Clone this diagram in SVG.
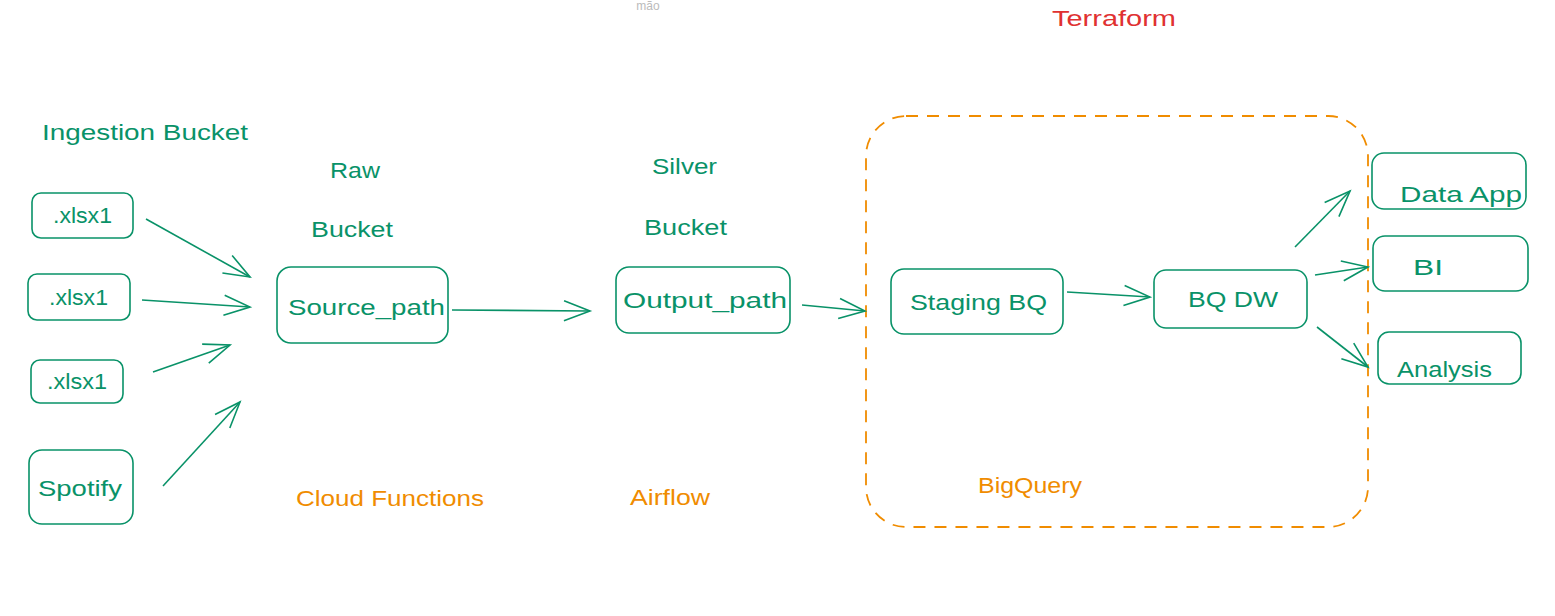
<svg xmlns="http://www.w3.org/2000/svg" width="1555" height="616" viewBox="0 0 1555 616">
<style>
.box{fill:none;stroke:#099268;stroke-width:1.6}
.t{font-family:"Liberation Sans","DejaVu Sans",sans-serif;font-size:22px;dominant-baseline:central}
.g{fill:#099268}
.o{fill:#f08c00}
.r{fill:#e03131}
.c{fill:none;stroke:#099268;stroke-width:1.6;marker-end:url(#ah)}
</style>
<defs>
<marker id="ah" markerUnits="userSpaceOnUse" markerWidth="40" markerHeight="40" refX="30" refY="20" orient="auto">
<path d="M4,10 L30,20 L4,30" fill="none" stroke="#099268" stroke-width="1.6"/>
</marker>
</defs>
<rect width="1555" height="616" fill="#ffffff"/>
<text x="648" y="6" text-anchor="middle" font-family="Liberation Sans, sans-serif" font-size="12" fill="#bbbbbb" dominant-baseline="central">mão</text>
<text class="t r" x="1052" y="18" textLength="124" lengthAdjust="spacingAndGlyphs">Terraform</text>
<text class="t g" x="42" y="132" textLength="206" lengthAdjust="spacingAndGlyphs">Ingestion Bucket</text>
<text class="t g" x="330" y="170" textLength="50" lengthAdjust="spacingAndGlyphs">Raw</text>
<text class="t g" x="311" y="229" textLength="82" lengthAdjust="spacingAndGlyphs">Bucket</text>
<text class="t g" x="652" y="166" textLength="65" lengthAdjust="spacingAndGlyphs">Silver</text>
<text class="t g" x="644" y="227" textLength="83" lengthAdjust="spacingAndGlyphs">Bucket</text>
<text class="t o" x="296" y="498" textLength="188" lengthAdjust="spacingAndGlyphs">Cloud Functions</text>
<text class="t o" x="630" y="497" textLength="80" lengthAdjust="spacingAndGlyphs">Airflow</text>
<g id="bigquery">
<rect x="866" y="116" width="502" height="411" rx="40" fill="none" stroke="#f08c00" stroke-width="1.8" stroke-dasharray="12 9"/>
<text class="t o" x="978" y="485" textLength="104" lengthAdjust="spacingAndGlyphs">BigQuery</text>
</g>
<g id="xlsx1a"><rect class="box" x="32" y="193" width="101" height="45" rx="9"/><text class="t g" x="53" y="215" textLength="59" lengthAdjust="spacingAndGlyphs">.xlsx1</text></g>
<g id="xlsx1b"><rect class="box" x="28" y="274" width="102" height="46" rx="9"/><text class="t g" x="49" y="297" textLength="59" lengthAdjust="spacingAndGlyphs">.xlsx1</text></g>
<g id="xlsx1c"><rect class="box" x="31" y="360" width="92" height="43" rx="9"/><text class="t g" x="47" y="381" textLength="60" lengthAdjust="spacingAndGlyphs">.xlsx1</text></g>
<g id="spotify"><rect class="box" x="29" y="450" width="104" height="74" rx="13"/><text class="t g" x="38" y="488" textLength="84" lengthAdjust="spacingAndGlyphs">Spotify</text></g>
<g id="source_path"><rect class="box" x="277" y="267" width="171" height="76" rx="14"/><text class="t g" x="288" y="307" textLength="157" lengthAdjust="spacingAndGlyphs">Source_path</text></g>
<g id="output_path"><rect class="box" x="616" y="267" width="174" height="66" rx="13"/><text class="t g" x="623" y="300" textLength="164" lengthAdjust="spacingAndGlyphs">Output_path</text></g>
<g id="staging_bq"><rect class="box" x="891" y="269" width="172" height="65" rx="13"/><text class="t g" x="910" y="302" textLength="137" lengthAdjust="spacingAndGlyphs">Staging BQ</text></g>
<g id="bq_dw"><rect class="box" x="1154" y="270" width="153" height="58" rx="12"/><text class="t g" x="1188" y="299" textLength="90" lengthAdjust="spacingAndGlyphs">BQ DW</text></g>
<g id="data_app"><rect class="box" x="1372" y="153" width="154" height="56" rx="12"/><text class="t g" x="1400" y="194" textLength="122" lengthAdjust="spacingAndGlyphs">Data App</text></g>
<g id="bi"><rect class="box" x="1373" y="236" width="155" height="55" rx="12"/><text class="t g" x="1413" y="267" textLength="30" lengthAdjust="spacingAndGlyphs">BI</text></g>
<g id="analysis"><rect class="box" x="1378" y="332" width="143" height="52" rx="11"/><text class="t g" x="1397" y="369" textLength="95" lengthAdjust="spacingAndGlyphs">Analysis</text></g>
<g id="connectors">
<line class="c" x1="146" y1="219" x2="250" y2="277"/>
<line class="c" x1="142" y1="300" x2="250" y2="307"/>
<line class="c" x1="153" y1="372" x2="230" y2="345"/>
<line class="c" x1="163" y1="486" x2="240" y2="402"/>
<line class="c" x1="452" y1="310" x2="590" y2="311"/>
<line class="c" x1="802" y1="305" x2="865" y2="311"/>
<line class="c" x1="1067" y1="292" x2="1150" y2="297"/>
<line class="c" x1="1295" y1="247" x2="1350" y2="191"/>
<line class="c" x1="1315" y1="275" x2="1368" y2="267"/>
<line class="c" x1="1317" y1="327" x2="1368" y2="367"/>
</g>
</svg>
